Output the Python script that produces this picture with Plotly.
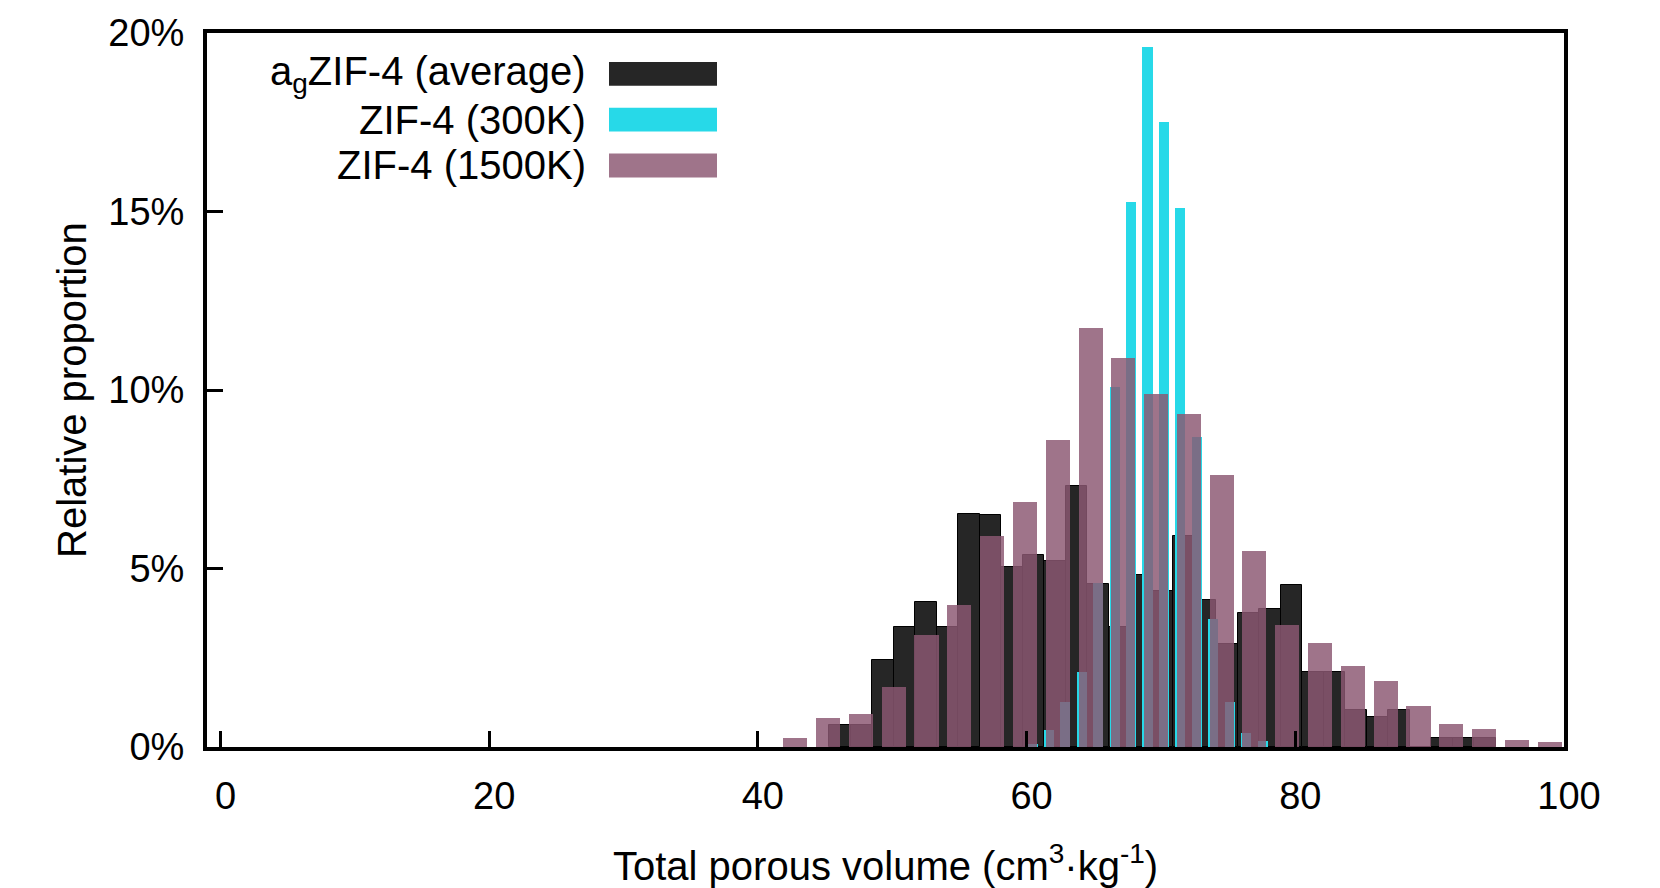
import plotly.graph_objects as go

# ---------------- data (values in %) ----------------
avg_x = [46.13, 47.73, 49.33, 50.93, 52.53, 54.13, 55.73, 57.33, 58.93, 60.53,
         62.13, 63.73, 65.33, 66.93, 68.53, 70.13, 71.73, 73.33, 74.93, 76.53,
         78.13, 79.73, 81.33, 82.93, 84.53, 86.13, 87.73, 89.33, 90.93, 92.53, 94.13]
avg_y = [0.62, 0.62, 2.44, 3.36, 4.06, 3.36, 6.52, 6.50, 5.04, 5.37,
         5.20, 7.30, 4.56, 3.36, 4.81, 4.36, 5.90, 4.11, 2.88, 3.75,
         3.87, 4.54, 2.10, 2.10, 1.04, 0.84, 1.04, 0.0, 0.25, 0.25, 0.25]

k300_x = [60.44, 61.66, 62.89, 64.11, 65.33, 66.56, 67.78, 69.00, 70.23, 71.45,
          72.67, 73.90, 75.12, 76.34, 77.57]
k300_y = [0.08, 0.48, 1.26, 2.10, 4.59, 10.09, 15.27, 19.60, 17.50, 15.10,
          8.69, 3.58, 1.26, 0.40, 0.18]

k1500_x = [42.79, 45.23, 47.67, 50.11, 52.55, 55.00, 57.44, 59.88, 62.32, 64.76,
           67.20, 69.64, 72.08, 74.52, 76.96, 79.41, 81.85, 84.29, 86.73, 89.17,
           91.61, 94.05, 96.49, 98.93]
k1500_y = [0.25, 0.81, 0.92, 1.68, 3.14, 3.97, 5.91, 6.86, 8.59, 11.74,
           10.91, 9.90, 9.34, 7.63, 5.48, 3.42, 2.92, 2.27, 1.85, 1.16,
           0.64, 0.50, 0.20, 0.14]

names = ["a<sub>g</sub>ZIF-4 (average)", "ZIF-4 (300K)", "ZIF-4 (1500K)"]
colors = ["#262626", "#27d9e8", "rgba(139,88,114,0.83)"]

x_ticks = [0, 20, 40, 60, 80, 100]
x_tick_labels = ["0", "20", "40", "60", "80", "100"]
y_ticks = [0, 5, 10, 15, 20]
y_tick_labels = ["0%", "5%", "10%", "15%", "20%"]

FONT = "Liberation Sans, Arial, Helvetica, sans-serif"
FS_TICK = 38
FS_TEXT = 40

W, H = 1660, 888
L, R, T, B = 207, 96, 30, 141
PW, PH = W - L - R, H - T - B


def px_x(px):
    return (px - L) / PW


def px_y(py):
    return (H - B - py) / PH


fig = go.Figure()
fig.add_trace(go.Bar(x=avg_x, y=avg_y, width=1.6, name=names[0],
                     marker=dict(color=colors[0], line=dict(color="black", width=1))))
fig.add_trace(go.Bar(x=k300_x, y=k300_y, width=0.75, name=names[1],
                     marker=dict(color=colors[1], line=dict(width=0))))
fig.add_trace(go.Bar(x=k1500_x, y=k1500_y, width=1.79, name=names[2],
                     marker=dict(color=colors[2], line=dict(width=0))))

axis_common = dict(
    showline=True, linewidth=4, linecolor="black", mirror=True,
    ticks="inside", ticklen=16, tickwidth=3, tickcolor="black",
    showgrid=False, zeroline=False,
    tickfont=dict(family=FONT, size=FS_TICK, color="black"),
)

fig.update_layout(
    width=W, height=H,
    margin=dict(l=L, r=R, t=T, b=B, pad=0),
    paper_bgcolor="white", plot_bgcolor="white",
    barmode="overlay", bargap=0,
    showlegend=False,
    font=dict(family=FONT, size=FS_TEXT, color="black"),
    xaxis=dict(range=[-1, 100], tickmode="array", tickvals=x_ticks, ticktext=x_tick_labels,
               ticklabelstandoff=12, ticklabelshift=5, **axis_common),
    yaxis=dict(range=[0, 20], tickmode="array", tickvals=y_ticks, ticktext=y_tick_labels,
               ticklabelstandoff=11, **axis_common),
)

# axis titles
fig.add_annotation(text="Total porous volume (cm<sup>3</sup>·kg<sup>-1</sup>)",
                   xref="paper", yref="paper", x=0.5, y=px_y(863),
                   xanchor="center", yanchor="middle", showarrow=False,
                   font=dict(family=FONT, size=FS_TEXT, color="black"))
fig.add_annotation(text="Relative proportion", textangle=-90,
                   xref="paper", yref="paper", x=px_x(72), y=0.5,
                   xanchor="center", yanchor="middle", showarrow=False,
                   font=dict(family=FONT, size=FS_TEXT, color="black"))

# legend (text right-aligned, swatch on the right)
rows = [71, 117, 163]
for name, col, yc in zip(names, colors, rows):
    fig.add_annotation(text=name, xref="paper", yref="paper",
                       x=px_x(588), y=px_y(yc), xanchor="right", yanchor="middle",
                       showarrow=False, font=dict(family=FONT, size=FS_TEXT, color="black"))
    fig.add_shape(type="rect", xref="paper", yref="paper",
                  x0=px_x(609), x1=px_x(717), y0=px_y(yc + 12), y1=px_y(yc - 12),
                  fillcolor=col, line=dict(width=0))

fig.write_html("out.html")
